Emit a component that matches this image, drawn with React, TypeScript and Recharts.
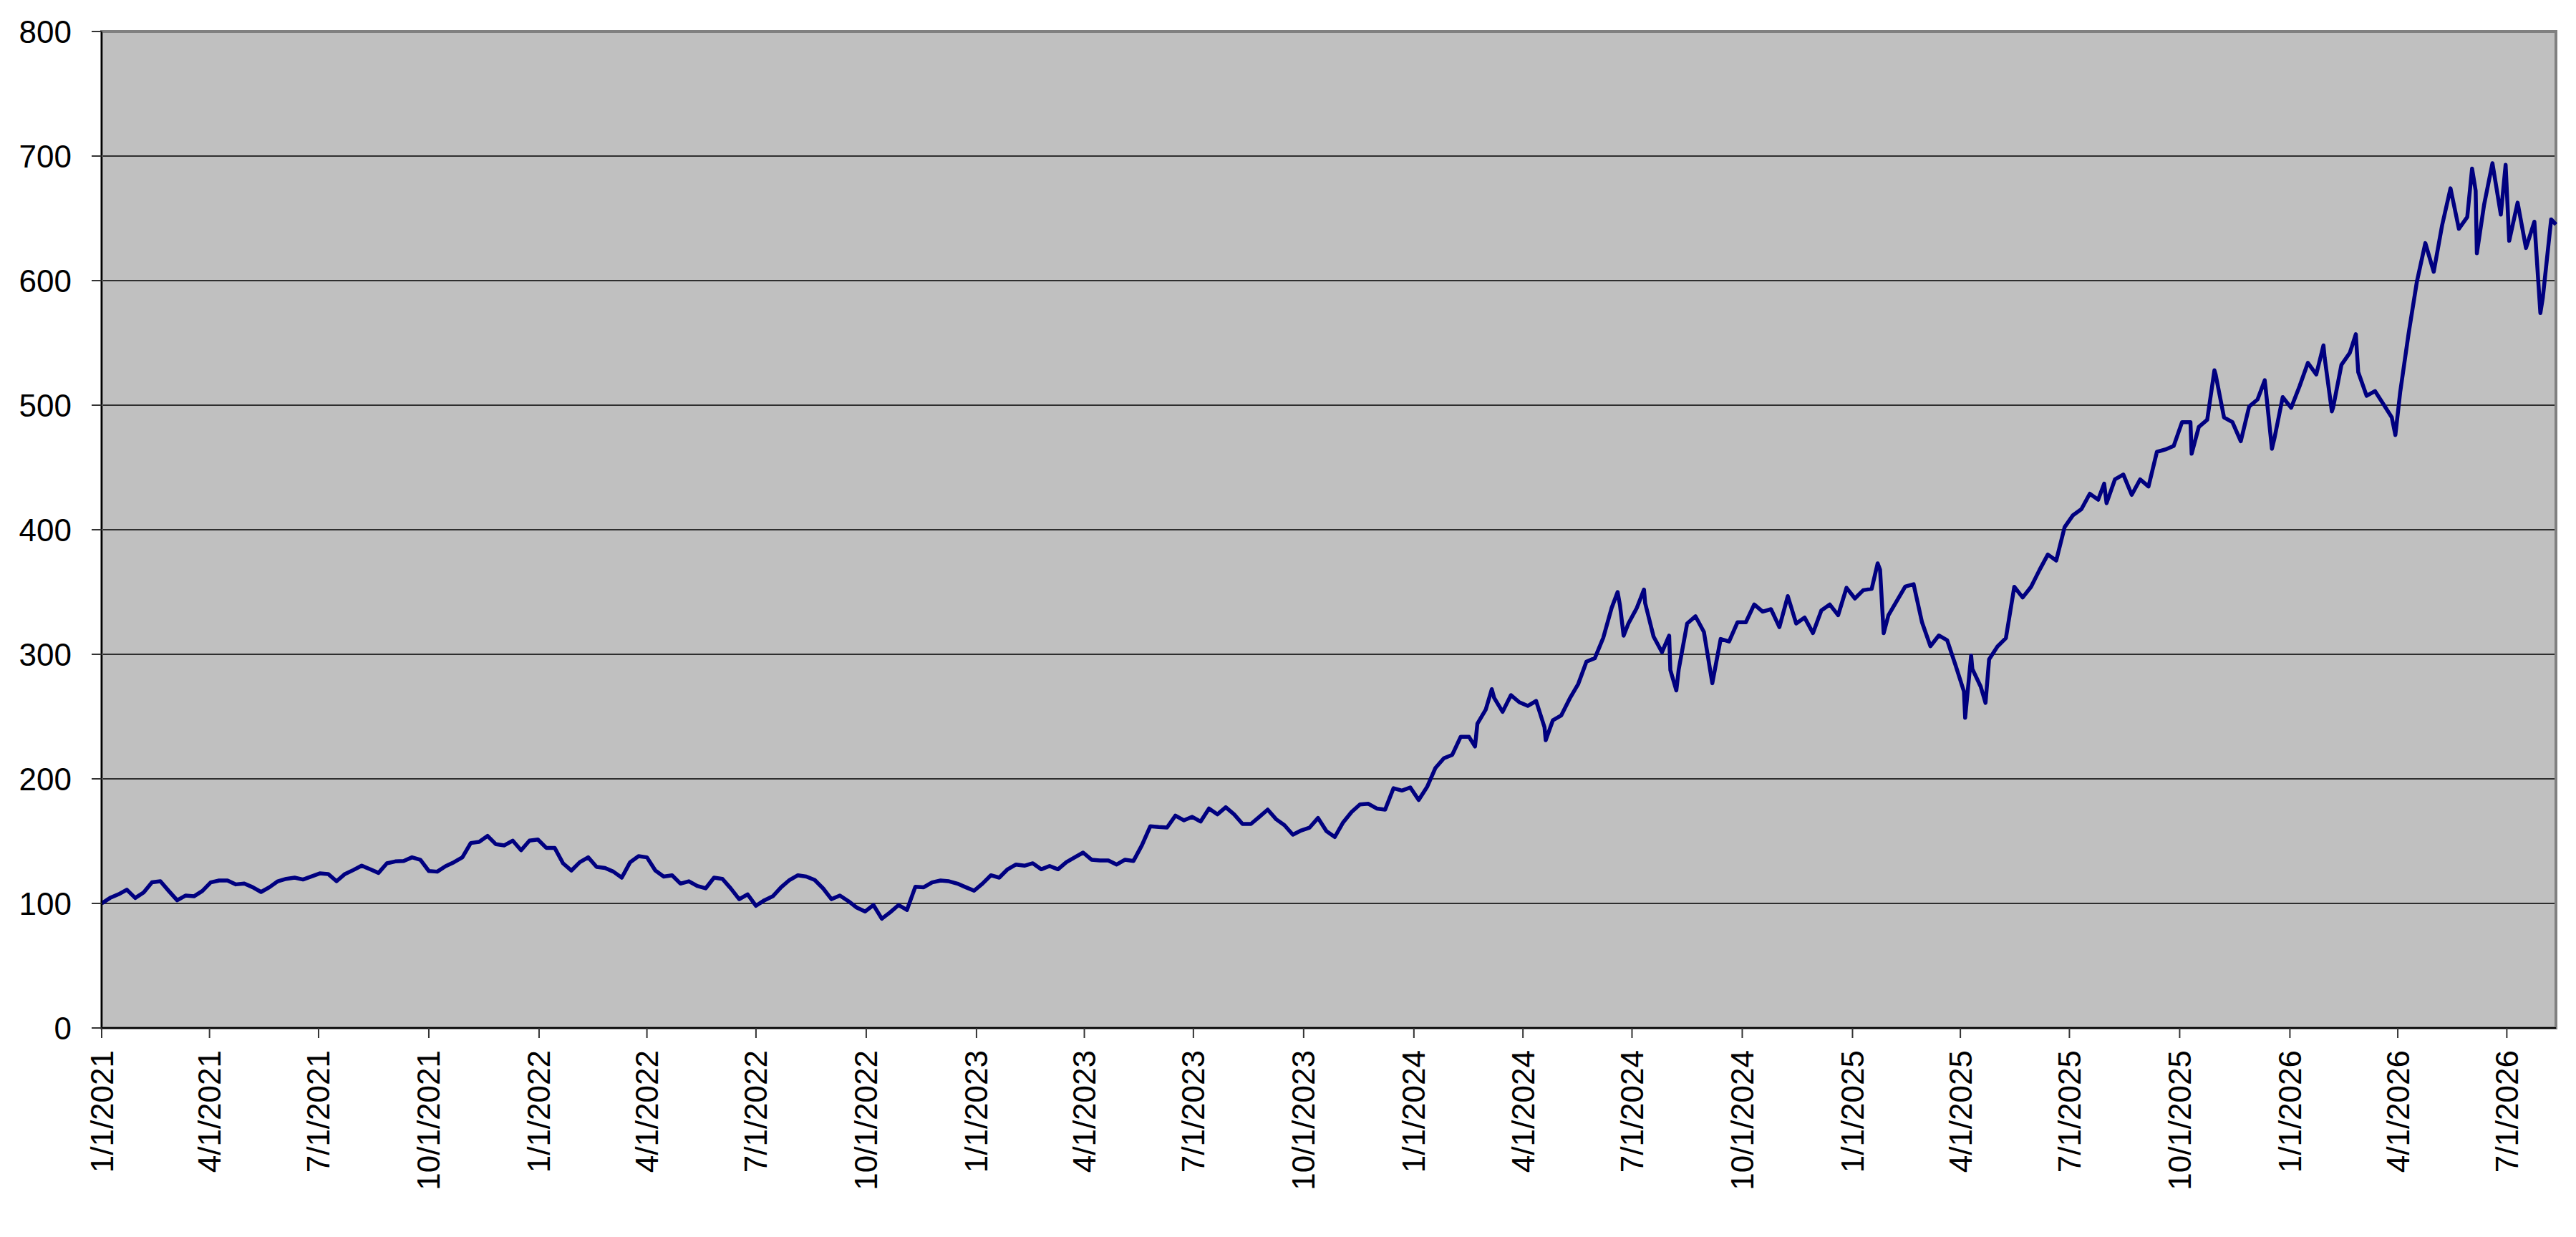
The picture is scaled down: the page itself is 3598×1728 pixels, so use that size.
import React from "react";
import { LineChart, Line, XAxis, YAxis, CartesianGrid, ReferenceArea } from "recharts";

// Weekly samples (every 7 calendar days starting 1/1/2021)
const weekly2021 = [
  100, 104.4, 107.3, 111, 104.4, 108.8, 116.9, 117.8, 110, 102.5,
  106.3, 105.7, 110, 116.9, 118.4, 118.4, 115.3, 115.9, 113, 109.2,
  113, 117.8, 119.7, 120.7, 119.2, 121.6, 124.1, 123.6, 117.8, 123.6,
  126.8, 130.3, 127.4, 124.5, 132.2, 133.7, 134.1, 137, 135, 126,
  125.5, 129.9, 133.1, 137, 148.5, 149.4, 154.2, 147.5, 146.6, 150.4,
  142.7, 150.4,
];
const weekly2022 = [
  151.3, 144.6, 144.6, 132.2, 126.4, 133.1, 137, 129.3,
  128.4, 125.5, 120.7, 133.1, 137.9, 137, 126.4, 121.6, 122.6, 115.9,
  117.8, 114, 112.1, 120.7, 119.7, 112, 103.4, 107.3, 98.1, 102.5,
  105.7, 113, 118.8, 122.6, 121.6, 118.8, 112.1, 103.4, 106.3, 101.9,
  96.7, 93.5, 98.7, 87.7, 92.9, 98.7, 94.8, 113.4, 113, 116.9,
  118.4, 117.8, 115.9, 113,
];
const weekly2023 = [
  110.2, 115.9, 122.6, 120.7, 127.4, 131.2,
  130.3, 132.2, 127.4, 130, 127.4, 133.1, 137, 140.8, 135.1, 134.5,
  134.5, 131.2, 135.1, 134.1, 146.6, 161.9, 161.3, 160.9, 170.5, 166.7,
  169.5, 165.7, 176.2, 171.5, 177.2, 171.5, 163.8, 163.8, 169.5, 175.3,
  167.6, 162.8, 155.2, 158.6, 160.9, 168.6, 158, 153.3, 165.1, 173.4,
  179.5, 180, 176.2, 175.3, 192.5, 190.6,
];
const weekly2024 = [
  193.1, 183, 193.5, 208.8,
  216.5, 219.3, 233.7, 233.7, 244.3, 255.7, 265, 253.8, 267.2, 261.5,
  258.6, 262.5, 241.4, 247.1, 251, 264.4, 275.9, 294.1, 296.9, 313.2,
  337.2, 339.1, 324.7, 337.2, 341, 314.2, 301.7, 287.4, 288, 324.7,
  330.5, 318, 276.8, 312.3, 310.3, 325.7, 325.7, 340, 334.3, 336.2,
  321.8, 346.7, 324.7, 329.5, 317, 335.2, 340, 331.4,
];
const weekly2025 = [
  353.4, 344.8,
  351.5, 352.5, 367.8, 331.4, 342.9, 354.4, 356.3, 325.7, 306.5, 315.1,
  311.3, 291.2, 270.1, 288.3, 274, 296, 306.3, 313, 354.2, 345.6,
  354.2, 367.6, 380.1, 375.3, 402.1, 411.7, 416.5, 428.9, 424.1, 421.3,
  440.4, 444.3, 428, 440.4, 434.7, 462.5, 464.4, 467.2, 486.4, 486.4,
  482.6, 488.3, 524.7, 490.2, 486.4, 471.1, 498.9, 504.6, 511.3, 473,
];
const weekly2026 = [
  506.5, 497.9, 515.1, 534, 524.7, 538.1, 497.9, 532.4, 542, 526.6,
  507.5, 511.3, 500.8, 490.2, 510.3, 557.3, 599.4, 630.1, 607.1, 644.4,
  674.1, 641.6, 651.1, 672.2, 660.7, 694.3, 653, 632, 662.6, 626.2,
  647.3, 586, 649.2,
];

// Extra readings of sharp peaks / troughs: [day since 1/1/2021, value]
const extraPoints: [number, number][] = [
  [1146, 226], [1160, 272], [1205, 231], [1265, 350], [1270, 315], [1287, 352],
  [1308, 315], [1314, 271], [1482, 373], [1487, 317], [1555, 249], [1560, 299],
  [1572, 261], [1671, 437], [1744, 461], [1763, 528], [1805, 520], [1811, 465],
  [1854, 548], [1861, 495], [1881, 557], [1914, 476], [1978, 690], [1982, 622],
  [2006, 693], [2035, 574], [2048, 645],
];

const tickLabels = [
  "1/1/2021", "4/1/2021", "7/1/2021", "10/1/2021",
  "1/1/2022", "4/1/2022", "7/1/2022", "10/1/2022",
  "1/1/2023", "4/1/2023", "7/1/2023", "10/1/2023",
  "1/1/2024", "4/1/2024", "7/1/2024", "10/1/2024",
  "1/1/2025", "4/1/2025", "7/1/2025", "10/1/2025",
  "1/1/2026", "4/1/2026", "7/1/2026",
];
const yTicks = [0, 100, 200, 300, 400, 500, 600, 700, 800];

const LAST_DAY = 2048;
const BASE = Date.UTC(2021, 0, 1);
const toDay = (label: string) => {
  const [m, d, y] = label.split("/").map(Number);
  return Math.round((Date.UTC(y, m - 1, d) - BASE) / 86400000);
};
const tickDays = tickLabels.map(toDay);

const weekly = [
  ...weekly2021, ...weekly2022, ...weekly2023,
  ...weekly2024, ...weekly2025, ...weekly2026,
];
const data = [
  ...weekly.map((v, k) => ({ day: k * 7, value: v })),
  ...extraPoints.map(([day, value]) => ({ day, value })),
].sort((a, b) => a.day - b.day);

const FONT = "'Liberation Sans', Arial, Helvetica, sans-serif";

const XTick = (props: any) => {
  const { x, y, payload } = props;
  const idx = tickDays.indexOf(payload.value);
  const label = idx >= 0 ? tickLabels[idx] : "";
  return (
    <text
      x={x}
      y={y}
      transform={`rotate(-90 ${x} ${y})`}
      textAnchor="end"
      dominantBaseline="central"
      fontSize={44}
      fontFamily={FONT}
      fill="#000"
    >
      {label}
    </text>
  );
};

export default function App() {
  return (
    <div style={{ width: 3582, height: 1710 }}>
      <LineChart
        width={3582}
        height={1710}
        data={data}
        margin={{ top: 36, right: 20, left: 0, bottom: 0 }}
      >
        <CartesianGrid
          vertical={false}
          fill="#C0C0C0"
          fillOpacity={1}
          stroke="#2e2e2e"
          strokeWidth={2}
        />
        <ReferenceArea
          x1={0}
          x2={LAST_DAY}
          y1={0}
          y2={800}
          fill="none"
          stroke="#808080"
          strokeWidth={4}
          ifOverflow="visible"
        />
        <XAxis
          dataKey="day"
          type="number"
          domain={[0, LAST_DAY]}
          ticks={tickDays}
          interval={0}
          height={282}
          tickSize={14}
          tickMargin={17}
          tick={XTick}
          axisLine={{ stroke: "#000", strokeWidth: 2 }}
          tickLine={{ stroke: "#333", strokeWidth: 2 }}
        />
        <YAxis
          type="number"
          domain={[0, 800]}
          ticks={yTicks}
          interval={0}
          width={134}
          tickSize={14}
          tickMargin={28}
          tick={{ fill: "#000", fontSize: 44, fontFamily: FONT }}
          axisLine={{ stroke: "#000", strokeWidth: 2 }}
          tickLine={{ stroke: "#333", strokeWidth: 2 }}
        />
        <Line
          type="linear"
          dataKey="value"
          stroke="#000080"
          strokeWidth={5.5}
          strokeLinejoin="round"
          dot={false}
          activeDot={false}
          isAnimationActive={false}
        />
      </LineChart>
    </div>
  );
}
